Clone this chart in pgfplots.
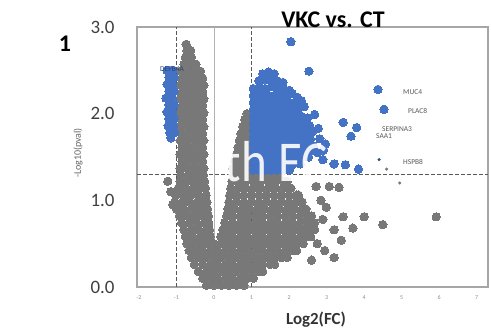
\documentclass[border=0pt]{standalone}
\usepackage{pgfplots}
\pgfplotsset{compat=1.18}
\usepackage{fontspec}
\setmainfont{Carlito}
\definecolor{gpt}{HTML}{787878}
\definecolor{bpt}{HTML}{4472C4}
\begin{document}
\begin{tikzpicture}
\path[use as bounding box] (0,0) rectangle (491bp,328bp);
\begin{axis}[at={(137bp,41bp)}, anchor=south west, width=351bp, height=260bp, scale only axis,
 xmin=-2.05, xmax=7.3, ymin=0, ymax=3,
 xtick={-2,-1,0,1,2,3,4,5,6,7}, ytick={0,1,2,3},
 /pgf/number format/assume math mode=true,
 yticklabel style={font=\fontsize{19}{19}\selectfont, text=black!75, xshift=-19bp, /pgf/number format/.cd, fixed, fixed zerofill, precision=1},
 xticklabel style={font=\fontsize{6}{6}\selectfont, text=black!45, yshift=-5bp},
 major tick length=0,
 axis line style={draw=black!35, line width=1.1pt},
 ]
\addplot[black!65, line width=0.8pt, dash pattern=on 3.5bp off 2.5bp] coordinates {(-1,0) (-1,3)};
\addplot[black!65, line width=0.8pt, dash pattern=on 3.5bp off 2.5bp] coordinates {(1,0) (1,3)};
\addplot[black!30, line width=0.8pt] coordinates {(0,0) (0,3)};
\addplot[black!65, line width=0.8pt, dash pattern=on 3.5bp off 2.5bp] coordinates {(-2.05,1.3) (7.3,1.3)};
% grey, not significant
\addplot[only marks, mark=*, mark size=4.2, mark options={fill=gpt, draw=gpt, line width=0pt}] coordinates {
(-0.2,0.02)(0,0.02)(0.2,0.02)(0.4,0.02)(0.6,0.02)(0.8,0.02)
(-0.3,0.1)(-0.1,0.1)(0.1,0.1)(0.3,0.1)(0.5,0.1)(0.7,0.1)(0.9,0.1)(1.05,0.1)
(-0.42,0.18)(-0.2,0.18)(0,0.18)(0.2,0.18)(0.4,0.18)(0.6,0.18)(0.8,0.18)(1,0.18)(1.2,0.18)(1.3,0.18)
(-0.52,0.26)(-0.3,0.26)(-0.1,0.26)(0.1,0.26)(0.3,0.26)(0.5,0.26)(0.7,0.26)(0.9,0.26)(1.1,0.26)(1.3,0.26)(1.5,0.26)(1.62,0.26)
(-0.6,0.34)(-0.4,0.34)(-0.2,0.34)(0,0.34)(0.2,0.34)(0.4,0.34)(0.6,0.34)(0.8,0.34)(1,0.34)(1.2,0.34)(1.4,0.34)(1.6,0.34)(1.8,0.34)(1.95,0.34)
(-0.66,0.42)(-0.5,0.42)(-0.3,0.42)(-0.1,0.42)(0.1,0.42)(0.3,0.42)(0.5,0.42)(0.7,0.42)(0.9,0.42)(1.1,0.42)(1.3,0.42)(1.5,0.42)(1.7,0.42)(1.9,0.42)(2.1,0.42)(2.2,0.42)
(-0.72,0.5)(-0.6,0.5)(-0.4,0.5)(-0.2,0.5)(0,0.5)(0.2,0.5)(0.4,0.5)(0.6,0.5)(0.8,0.5)(1,0.5)(1.2,0.5)(1.4,0.5)(1.6,0.5)(1.8,0.5)(2,0.5)(2.2,0.5)(2.38,0.5)
(-0.76,0.58)(-0.56,0.58)(-0.36,0.58)(-0.16,0.58)(-0.1,0.58)(0.18,0.58)(0.3,0.58)(0.5,0.58)(0.7,0.58)(0.9,0.58)(1.1,0.58)(1.3,0.58)(1.5,0.58)(1.7,0.58)(1.9,0.58)(2.1,0.58)(2.3,0.58)(2.5,0.58)(2.58,0.58)
(-0.8,0.66)(-0.6,0.66)(-0.4,0.66)(-0.2,0.66)(-0.12,0.66)(0.24,0.66)(0.4,0.66)(0.6,0.66)(0.8,0.66)(1,0.66)(1.2,0.66)(1.4,0.66)(1.6,0.66)(1.8,0.66)(2,0.66)(2.2,0.66)(2.4,0.66)(2.6,0.66)(2.68,0.66)
(-0.86,0.74)(-0.66,0.74)(-0.46,0.74)(-0.26,0.74)(-0.14,0.74)(0.29,0.74)(0.5,0.74)(0.7,0.74)(0.9,0.74)(1.1,0.74)(1.3,0.74)(1.5,0.74)(1.7,0.74)(1.9,0.74)(2.1,0.74)(2.3,0.74)(2.5,0.74)(2.68,0.74)
(-0.92,0.82)(-0.72,0.82)(-0.52,0.82)(-0.32,0.82)(-0.15,0.82)(0.34,0.82)(0.5,0.82)(0.7,0.82)(0.9,0.82)(1.1,0.82)(1.3,0.82)(1.5,0.82)(1.7,0.82)(1.9,0.82)(2.1,0.82)(2.3,0.82)(2.5,0.82)(2.6,0.82)
(-1,0.9)(-0.8,0.9)(-0.6,0.9)(-0.4,0.9)(-0.25,0.9)(-0.17,0.9)(0.37,0.9)(0.55,0.9)(0.75,0.9)(0.95,0.9)(1.15,0.9)(1.35,0.9)(1.55,0.9)(1.75,0.9)(1.95,0.9)(2.15,0.9)(2.35,0.9)(2.45,0.9)
(-1.05,0.98)(-0.85,0.98)(-0.65,0.98)(-0.45,0.98)(-0.3,0.98)(-0.19,0.98)(0.4,0.98)(0.6,0.98)(0.8,0.98)(1,0.98)(1.2,0.98)(1.4,0.98)(1.6,0.98)(1.8,0.98)(2,0.98)(2.2,0.98)(2.35,0.98)
(-1.02,1.06)(-0.82,1.06)(-0.62,1.06)(-0.42,1.06)(-0.21,1.06)(0.42,1.06)(0.6,1.06)(0.8,1.06)(1,1.06)(1.2,1.06)(1.4,1.06)(1.6,1.06)(1.8,1.06)(2,1.06)(2.2,1.06)(2.25,1.06)
(-0.95,1.14)(-0.75,1.14)(-0.55,1.14)(-0.35,1.14)(-0.23,1.14)(0.45,1.14)(0.65,1.14)(0.85,1.14)(1.05,1.14)(1.25,1.14)(1.45,1.14)(1.65,1.14)(1.85,1.14)(2.05,1.14)
(-0.9,1.22)(-0.7,1.22)(-0.5,1.22)(-0.3,1.22)(-0.25,1.22)(0.48,1.22)(0.65,1.22)(0.85,1.22)(1.05,1.22)(1.25,1.22)(1.45,1.22)(1.65,1.22)(1.85,1.22)(1.95,1.22)
(-0.88,1.29)(-0.68,1.29)(-0.48,1.29)(-0.28,1.29)(0.52,1.29)(0.7,1.29)(0.9,1.29)(1.1,1.29)(1.3,1.29)(1.5,1.29)(1.72,1.29)
(-0.9,1.37)(-0.72,1.37)(-0.54,1.37)(-0.36,1.37)(-0.27,1.37)
(-0.85,1.45)(-0.67,1.45)(-0.49,1.45)(-0.3,1.45)
(-0.9,1.53)(-0.72,1.53)(-0.54,1.53)(-0.36,1.53)(-0.27,1.53)
(-0.85,1.61)(-0.67,1.61)(-0.49,1.61)(-0.3,1.61)
(-0.9,1.69)(-0.72,1.69)(-0.54,1.69)(-0.36,1.69)(-0.27,1.69)
(-0.85,1.77)(-0.67,1.77)(-0.49,1.77)(-0.3,1.77)
(-0.9,1.85)(-0.72,1.85)(-0.54,1.85)(-0.36,1.85)(-0.27,1.85)
(-0.85,1.93)(-0.67,1.93)(-0.49,1.93)(-0.3,1.93)
(-0.9,2.01)(-0.72,2.01)(-0.54,2.01)(-0.36,2.01)(-0.27,2.01)
(-0.85,2.09)(-0.67,2.09)(-0.49,2.09)(-0.3,2.09)
(-0.9,2.17)(-0.72,2.17)(-0.54,2.17)(-0.36,2.17)(-0.27,2.17)
(-0.85,2.25)(-0.67,2.25)(-0.49,2.25)(-0.3,2.25)
(-0.9,2.33)(-0.72,2.33)(-0.54,2.33)(-0.36,2.33)(-0.27,2.33)
(-0.85,2.41)(-0.67,2.41)(-0.49,2.41)(-0.3,2.41)
(-0.88,2.49)(-0.7,2.49)(-0.52,2.49)(-0.36,2.49)
(-0.8,2.57)(-0.62,2.57)(-0.48,2.57)
(-0.76,2.65)(-0.6,2.65)
(-0.72,2.73)(-0.62,2.73)
(-0.74,2.8)
(0.5,1.37)(0.68,1.37)(0.86,1.37)
(0.55,1.45)(0.72,1.45)(0.9,1.45)
(0.6,1.53)(0.78,1.53)(0.92,1.53)
(0.64,1.61)(0.8,1.61)(0.92,1.61)
(0.68,1.69)(0.84,1.69)(0.92,1.69)
(0.72,1.77)(0.88,1.77)
(0.77,1.85)(0.9,1.85)
(0.82,1.93)(0.92,1.93)
(0.88,2.0)
(2.72,1.16)(3.07,1.16)(3.33,1.15)(2.99,0.92)(3.44,0.81)(4,0.81)(3.7,0.68)(3.2,0.66)(3.39,0.54)(3.2,0.34)(2.6,0.31)(4.5,0.72)(5.92,0.81)(2.85,1.0)(2.9,0.78)(2.75,0.5)(2.95,0.42)(-1.23,1.22)(-1.15,1.1)(-1.1,0.95)
};
% blue, significant
\addplot[only marks, mark=*, mark size=4.2, mark options={fill=bpt, draw=bpt, line width=0pt}] coordinates {
(-1.25,2.5)(-1.1,2.5)(-1.2,2.42)(-1.06,2.42)(-1.25,2.34)(-1.1,2.34)(-1.2,2.26)(-1.06,2.26)(-1.28,2.18)(-1.1,2.18)(-1.2,2.1)(-1.06,2.1)(-1.25,2.02)(-1.1,2.02)(-1.2,1.94)(-1.06,1.94)(-1.22,1.86)(-1.08,1.86)(-1.18,1.78)(-1.05,1.78)(-1.15,1.72)
(1.3,2.46)(1.45,2.48)(1.6,2.46)
(1.2,2.38)(1.36,2.39)(1.52,2.4)(1.68,2.38)(1.84,2.36)
(1.05,2.29)(1.21,2.3)(1.37,2.29)(1.53,2.31)(1.69,2.29)(1.85,2.3)(2.01,2.27)
(1.05,2.21)(1.13,2.21)(1.29,2.21)(1.45,2.21)(1.61,2.21)(1.77,2.21)(1.93,2.21)(2.09,2.23)(2.22,2.19)
(1.05,2.13)(1.21,2.13)(1.37,2.13)(1.53,2.13)(1.69,2.13)(1.85,2.13)(2.01,2.13)(2.17,2.13)(2.33,2.15)
(1.05,2.05)(1.13,2.05)(1.29,2.05)(1.45,2.05)(1.61,2.05)(1.77,2.05)(1.93,2.05)(2.09,2.05)(2.25,2.05)(2.4,2.08)
(1.05,1.97)(1.21,1.97)(1.37,1.97)(1.53,1.97)(1.69,1.97)(1.85,1.97)(2.01,1.97)(2.17,1.97)(2.33,1.97)(2.49,1.95)(2.68,1.99)
(1.05,1.89)(1.13,1.89)(1.29,1.89)(1.45,1.89)(1.61,1.89)(1.77,1.89)(1.93,1.89)(2.09,1.89)(2.25,1.89)(2.41,1.89)(2.55,1.86)
(1.05,1.81)(1.21,1.81)(1.37,1.81)(1.53,1.81)(1.69,1.81)(1.85,1.81)(2.01,1.81)(2.17,1.81)(2.33,1.81)(2.49,1.81)(2.62,1.79)(2.78,1.83)
(1.05,1.73)(1.13,1.73)(1.29,1.73)(1.45,1.73)(1.61,1.73)(1.77,1.73)(1.93,1.73)(2.09,1.73)(2.25,1.73)(2.41,1.73)(2.57,1.71)(2.82,1.71)
(1.05,1.65)(1.21,1.65)(1.37,1.65)(1.53,1.65)(1.69,1.65)(1.85,1.65)(2.01,1.65)(2.17,1.65)(2.33,1.65)(2.49,1.65)(2.65,1.63)(2.97,1.65)
(1.05,1.57)(1.13,1.57)(1.29,1.57)(1.45,1.57)(1.61,1.57)(1.77,1.57)(1.93,1.57)(2.09,1.57)(2.25,1.57)(2.41,1.57)(2.57,1.57)(2.76,1.55)(2.92,1.58)
(1.05,1.49)(1.21,1.49)(1.37,1.49)(1.53,1.49)(1.69,1.49)(1.85,1.49)(2.01,1.49)(2.17,1.49)(2.33,1.49)(2.52,1.5)
(1.05,1.41)(1.13,1.41)(1.29,1.41)(1.45,1.41)(1.61,1.41)(1.77,1.41)(1.93,1.41)(2.09,1.41)(2.3,1.42)
(1.05,1.35)(1.21,1.35)(1.37,1.35)(1.53,1.35)(1.69,1.35)(1.85,1.35)(2.01,1.35)
(2.05,2.83)(2.53,2.49)(3.44,1.9)(3.8,1.84)(3.65,1.74)(4.37,2.28)(4.53,2.05)(2.9,1.47)(3.2,1.42)(3.5,1.41)(3.85,1.36)
};
\addplot[only marks, mark=*, mark size=1.4, mark options={fill=bpt!70!black, draw=bpt!70!black}] coordinates {(4.4,1.47)};
\addplot[only marks, mark=*, mark size=1.4, mark options={fill=gpt, draw=gpt}] coordinates {(4.6,1.36)(4.95,1.2)};
\end{axis}
% watermark
\node[anchor=west, text=white, opacity=0.9, font=\fontsize{58}{58}\selectfont, xscale=0.85] at (222bp,166bp) {th EC};
% gene labels
\node[anchor=west, text=black!65, font=\fontsize{7.5}{8}\selectfont, inner sep=0] at (403bp,236bp) {MUC4};
\node[anchor=west, text=black!65, font=\fontsize{7.5}{8}\selectfont, inner sep=0] at (408bp,217bp) {PLAC8};
\node[anchor=west, text=black!65, font=\fontsize{7.5}{8}\selectfont, inner sep=0] at (382bp,199bp) {SERPINA3};
\node[anchor=west, text=black!65, font=\fontsize{7.5}{8}\selectfont, inner sep=0] at (376bp,192bp) {SAA1};
\node[anchor=west, text=black!65, font=\fontsize{7.5}{8}\selectfont, inner sep=0] at (403bp,166bp) {HSPB8};
\node[anchor=west, text=bpt!60!black, font=\fontsize{7.5}{8}\selectfont, inner sep=0] at (160bp,259bp) {DEFB4A};
% titles and labels
\node[font=\bfseries\fontsize{24}{24}\selectfont] at (333bp,308bp) {VKC vs. CT};
\node[font=\bfseries\fontsize{24}{24}\selectfont] at (65bp,284bp) {1};
\node[font=\bfseries\fontsize{17}{17}\selectfont, text=black!80] at (316bp,8bp) {Log2(FC)};
\node[rotate=90, font=\fontsize{10}{10}\selectfont, text=black!60] at (78bp,175bp) {-Log10(pval)};
\end{tikzpicture}
\end{document}
